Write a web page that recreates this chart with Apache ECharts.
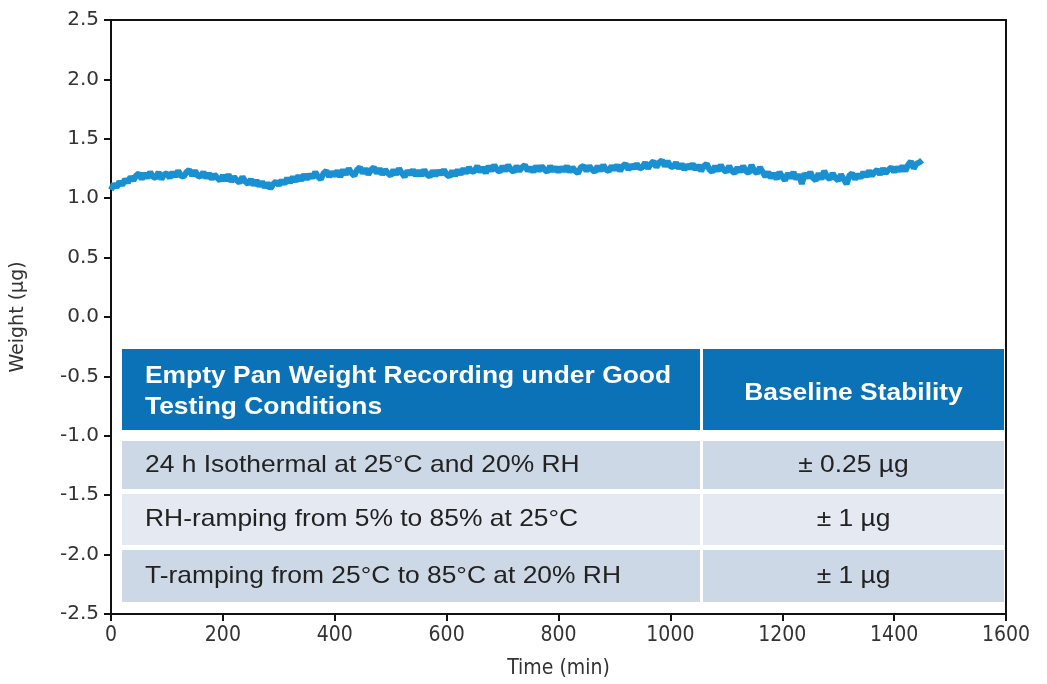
<!DOCTYPE html>
<html>
<head>
<meta charset="utf-8">
<title>Empty Pan Weight Recording</title>
<script src="https://cdn.jsdelivr.net/npm/echarts@6/dist/echarts.min.js"></script>
<style>
  html, body { margin: 0; padding: 0; background: #ffffff; }
  #chart { width: 1047px; height: 684px; }
</style>
</head>
<body>
<div id="chart"></div>
<script>
// Sampling interval of the balance recording (min)
const sampleStepMin = 5;

// Recorded empty-pan weight (µg), one reading per sampling interval from t = 0
const weightUg = [
  1.07,1.12,1.09,1.14,1.11,1.16,1.13,1.18,1.15,1.19,
  1.21,1.16,1.21,1.17,1.22,1.18,1.17,1.22,1.16,1.20,
  1.21,1.17,1.22,1.18,1.23,1.19,1.18,1.22,1.24,1.19,
  1.23,1.19,1.18,1.22,1.17,1.21,1.16,1.20,1.17,1.15,
  1.19,1.15,1.20,1.14,1.18,1.15,1.13,1.18,1.14,1.12,
  1.16,1.11,1.15,1.10,1.14,1.09,1.13,1.08,1.12,1.14,
  1.11,1.15,1.12,1.17,1.13,1.18,1.14,1.19,1.15,1.20,
  1.16,1.20,1.17,1.22,1.18,1.16,1.21,1.23,1.18,1.22,
  1.19,1.23,1.18,1.24,1.20,1.25,1.21,1.19,1.24,1.26,
  1.21,1.25,1.20,1.24,1.26,1.21,1.25,1.20,1.24,1.21,
  1.19,1.24,1.20,1.25,1.21,1.18,1.23,1.20,1.24,1.19,
  1.23,1.19,1.24,1.20,1.18,1.23,1.19,1.23,1.20,1.24,
  1.20,1.18,1.23,1.19,1.24,1.20,1.25,1.21,1.26,1.22,
  1.23,1.27,1.22,1.26,1.21,1.27,1.23,1.28,1.24,1.22,
  1.27,1.23,1.28,1.24,1.22,1.27,1.23,1.26,1.28,1.23,
  1.26,1.22,1.27,1.23,1.27,1.24,1.22,1.27,1.23,1.26,
  1.22,1.26,1.23,1.27,1.22,1.26,1.23,1.21,1.26,1.27,
  1.23,1.27,1.24,1.22,1.27,1.23,1.28,1.24,1.23,1.27,
  1.24,1.28,1.23,1.27,1.29,1.24,1.28,1.25,1.29,1.25,
  1.26,1.30,1.25,1.29,1.31,1.26,1.30,1.32,1.27,1.31,
  1.27,1.26,1.30,1.25,1.29,1.24,1.28,1.25,1.29,1.24,
  1.28,1.23,1.27,1.29,1.24,1.22,1.27,1.23,1.28,1.24,
  1.22,1.27,1.23,1.21,1.26,1.22,1.27,1.23,1.21,1.28,
  1.23,1.21,1.26,1.22,1.18,1.22,1.17,1.21,1.16,1.22,
  1.18,1.15,1.21,1.17,1.22,1.16,1.20,1.12,1.21,1.17,
  1.22,1.17,1.15,1.21,1.16,1.23,1.18,1.16,1.21,1.17,
  1.15,1.20,1.16,1.12,1.19,1.21,1.16,1.20,1.17,1.22,
  1.18,1.23,1.19,1.22,1.24,1.20,1.25,1.21,1.24,1.26,
  1.22,1.26,1.23,1.27,1.23,1.28,1.31,1.25,1.29,1.30,
  1.32
];

// Axis ranges and tick spacing
const xTicks = { min: 0, max: 1600, interval: 200 };
const yTicks = { min: -2.5, max: 2.5, interval: 0.5 };

// Inset summary table
const tableHeader = ['Empty Pan Weight Recording under Good\nTesting Conditions', 'Baseline Stability'];
const tableConditions = [
  '24 h Isothermal at 25°C and 20% RH',
  'RH-ramping from 5% to 85% at 25°C',
  'T-ramping from 25°C to 85°C at 20% RH'
];
const tableStability = ['± 0.25 µg', '± 1 µg', '± 1 µg'];

const seriesData = weightUg.map((w, i) => [i * sampleStepMin, w]);

// Table layout (px)
const tbl = {
  left: 122, split: 700, right: 1004, gap: 3,
  header: [349, 430],
  rows: [[441, 489], [494, 545], [550, 602]],
  rowFill: ['#cdd8e6', '#e5eaf2', '#cdd8e6']
};

const graphics = [];
const textFont = '"Liberation Sans", Arial, sans-serif';
const textStretch = 1.1;
function cellText(x, y, text, font, fill, align, extra) {
  return {
    type: 'text', x: x, y: y, scaleX: textStretch, z: 11,
    style: Object.assign({ text: text, fill: fill, font: font, verticalAlign: 'middle', textAlign: align }, extra || {})
  };
}
// header cells
graphics.push({ type: 'rect', shape: { x: tbl.left, y: tbl.header[0], width: tbl.split - tbl.left, height: tbl.header[1] - tbl.header[0] }, style: { fill: '#0b72b8' }, z: 10 });
graphics.push({ type: 'rect', shape: { x: tbl.split + tbl.gap, y: tbl.header[0], width: tbl.right - tbl.split - tbl.gap, height: tbl.header[1] - tbl.header[0] }, style: { fill: '#0b72b8' }, z: 10 });
graphics.push(cellText(145, 392, tableHeader[0], 'bold 24px ' + textFont, '#ffffff', 'left', { lineHeight: 31 }));
graphics.push(cellText((tbl.split + tbl.gap + tbl.right) / 2, 393, tableHeader[1], 'bold 24px ' + textFont, '#ffffff', 'center'));
// body rows
tbl.rows.forEach((r, i) => {
  graphics.push({ type: 'rect', shape: { x: tbl.left, y: r[0], width: tbl.split - tbl.left, height: r[1] - r[0] }, style: { fill: tbl.rowFill[i] }, z: 10 });
  graphics.push({ type: 'rect', shape: { x: tbl.split + tbl.gap, y: r[0], width: tbl.right - tbl.split - tbl.gap, height: r[1] - r[0] }, style: { fill: tbl.rowFill[i] }, z: 10 });
  graphics.push(cellText(145, (r[0] + r[1]) / 2, tableConditions[i], '24px ' + textFont, '#222222', 'left'));
  graphics.push(cellText((tbl.split + tbl.gap + tbl.right) / 2, (r[0] + r[1]) / 2, tableStability[i], '24px ' + textFont, '#222222', 'center'));
});

const axisLine = { show: true, onZero: false, lineStyle: { color: '#111111', width: 2 } };
const yFont = '"DejaVu Sans", sans-serif';
const xFont = '"Liberation Sans Narrow", "DejaVu Sans Condensed", sans-serif';

const chart = echarts.init(document.getElementById('chart'), null, { renderer: 'canvas' });
chart.setOption({
  animation: false,
  backgroundColor: '#ffffff',
  grid: { left: 111, right: 41, top: 20, bottom: 69, show: true, borderColor: '#111111', borderWidth: 2, backgroundColor: 'transparent' },
  xAxis: {
    type: 'value', min: xTicks.min, max: xTicks.max, interval: xTicks.interval,
    name: 'Time (min)', nameLocation: 'middle', nameGap: 44,
    nameTextStyle: { fontSize: 21, color: '#333333', fontFamily: '"DejaVu Sans Condensed", "DejaVu Sans", sans-serif' },
    axisLine: axisLine,
    axisTick: { show: true, length: 7, lineStyle: { color: '#111111', width: 2 } },
    axisLabel: { fontSize: 21, color: '#333333', margin: 11, fontFamily: xFont, formatter: v => String(v) },
    splitLine: { show: false }
  },
  yAxis: {
    type: 'value', min: yTicks.min, max: yTicks.max, interval: yTicks.interval,
    name: 'Weight (µg)', nameLocation: 'middle', nameGap: 83, nameRotate: 90,
    nameTextStyle: { fontSize: 19, color: '#333333', fontFamily: yFont },
    axisLine: axisLine,
    axisTick: { show: true, length: 7, lineStyle: { color: '#111111', width: 2 } },
    axisLabel: { fontSize: 20, color: '#333333', margin: 12, fontFamily: yFont, formatter: v => v.toFixed(1) },
    splitLine: { show: false }
  },
  series: [{
    type: 'line',
    data: seriesData,
    showSymbol: false,
    smooth: false,
    lineStyle: { color: '#1890d2', width: 6 },
    z: 5
  }],
  graphic: graphics
});
</script>
</body>
</html>
